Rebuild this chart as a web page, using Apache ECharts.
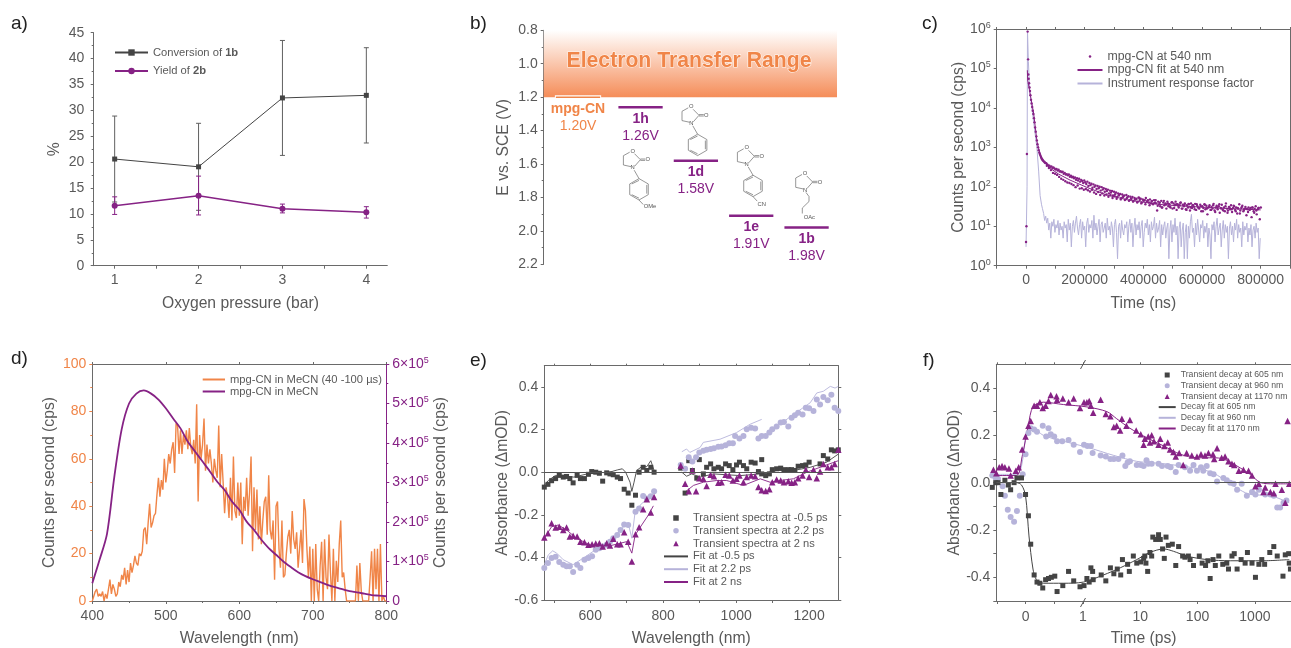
<!DOCTYPE html>
<html><head><meta charset="utf-8">
<script src="https://cdn.jsdelivr.net/npm/echarts@6/dist/echarts.min.js"></script>
<style>html,body{margin:0;padding:0;background:#fff}#c{width:1291px;height:648px}</style>
</head><body><div id="c"></div>
<script>
// ---------- a) ----------
const aPressure=[1,2,3,4];
const aConversion=[20.6,19.1,32.4,32.9];
const aConversionHi=[28.9,27.5,43.5,42.1];
const aConversionLo=[12.3,10.7,21.3,23.7];
const aYield=[11.6,13.5,11.0,10.3];
const aYieldHi=[13.3,17.3,11.9,11.4];
const aYieldLo=[9.9,9.8,10.2,9.2];
// ---------- b) ----------
const bNames=['mpg-CN','1h','1d','1e','1b'];
const bColumn=[0.62,1.75,2.75,3.75,4.75];
const bPotential=[1.20,1.26,1.58,1.91,1.98];
const bBand=[0.8,1.2];
// ---------- c) ----------
const cEarlyDots=[[0,4],[1500,10],[3000,680],[5500,860000],[7000,170000],[8000,70000],[9000,55000],[10500,42000],[12000,33000],[13500,27000],[15000,21000],[17000,16000],[19000,13000],[21000,10500],[23000,8500],[25000,7000],[27000,5500],[29000,4300],[31000,3200],[33000,2500],[35000,1900],[37000,1500],[39000,1200],[41000,1000],[43000,850],[45000,740],[47000,680],[49000,620],[51000,570],[53000,530],[55000,500],[57000,470],[59000,450]];
const cDotStart=62000, cStep=3500;
const cDots=[430,400,395,370,350,345,320,330,300,310,290,275,285,260,270,245,250,235,240,215,
225,205,210,195,205,180,190,175,180,165,172,150,165,145,160,135,150,140,125,145,
130,118,135,105,125,110,120,95,115,100,108,88,105,92,100,80,98,85,92,75,
88,78,85,68,80,72,78,60,75,65,72,55,68,62,66,52,64,58,60,48,
62,54,58,46,56,50,55,44,52,48,50,42,54,46,50,40,48,44,46,52,
42,46,40,48,38,44,36,46,40,38,25,42,36,32,44,30,40,34,38,28,
42,32,36,30,40,28,38,34,42,26,36,30,34,40,28,35,32,38,27,34,
30,36,25,38,29,34,31,37,26,33,30,28,35,24,32,29,36,27,33,20,
30,34,26,31,28,37,25,30,33,27,32,22,29,35,26,30,24,38,28,25,
31,27,34,23,29,32,26,30,21,28,36,25,29,33,24,28,31,19,27,30,
26,29,17,30,24,28,32,20,27,29,15,30];
const cDots2Start=64000, cDots2Step=7000;
const cDots2=[415,340,300,265,225,215,200,178,160,150,
138,128,125,118,110,98,108,90,92,84,
88,82,76,84,72,66,74,62,68,60,
64,56,62,52,58,50,60,48,54,46,
52,44,50,42,48,40,52,38,46,36,
44,34,42,38,46,33,40,30,44,36,
38,31,41,29,36,33,39,28,35,26,
37,30,34,27,36,29,32,24,35,28,
31,26,34,23,30,36,28,25,32,22,
30,27,33,24,29,21,31,26,28,23,
27,30,22,25,29];
const cFit=[[4500,90000],[5600,51000],[14700,21000],[26000,7300],[37400,1400],[48700,640],[60000,435],[82700,295],[111000,210],[150000,148],[207000,97],[275000,62],[355000,45],[468000,35],[581000,31],[695000,28],[800000,26]];
const cIrfEarly=[[0,3],[2000,3],[3500,100],[5000,900000],[8000,150000],[12000,30000],[20000,10000],[30000,2500],[37000,1000],[43000,250],[48000,60],[53000,35],[56000,28]];
const cIrfStart=60000;
const cIrf=[21,14,18,12,16,8,12,5,13,10,15,7,11,9,14,6,12,8,10,5,
13,9,11,4,15,8,12,3,10,14,7,12,18,9,6,11,15,5,13,8,
10,3,12,16,7,11,9,14,5,19,8,12,6,10,15,4,11,13,7,9,
12,5,16,8,10,6,13,9,3,11,15,7,1.5,10,12,5,14,8,6,11,
9,13,4,10,15,7,12,3,9,16,6,11,8,13,5,10,14,3,7,12,
9,15,6,11,4,13,8,10,17,5,12,7,9,14,3,11,6,10,13,5,
9,12,1.5,8,14,4,11,7,16,6,10,1.5,9,13,3,8,12,1.5,7,11,
1.5,10,5,13,20,7,9,3,12,6,15,8,4,11,9,14,5,10,7,12,
3,9,6,1.5,11,8,13,4,10,16,6,9,12,3,8,14,5,11,7,10,
1.5,9,13,6,10,4,12,8,15,5,11,7,9,3,13,6,10,8,12,4,
9,6,11,3,8,10,5,12,7,9,1.5,5];
// ---------- d) ----------
const dNoiseStart=400, dNoiseStep=2;
const dNoise=[0,2,4,5,2,3,2,4,0,3,
1,5,9,3,7,5,2,3,8,6,
11,9,14,7,13,8,16,12,15,19,
16,15,20,19,21,30,31,24,33,41,
31,33,36,37,45,52,44,51,47,60,
50,55,62,58,64,67,54,75,74,62,
72,62,70,66,72,64,73,65,62,68,
58,83,42,70,60,66,77,55,66,58,
64,58,50,60,55,52,74,48,62,50,
37,48,44,35,52,34,61,38,35,50,
36,50,24,44,38,52,36,46,61,21,
48,30,47,26,40,24,34,42,44,28,
53,30,26,34,9,40,42,22,14,34,
10,11,20,27,30,20,38,26,22,29,
14,14,30,16,43,38,22,10,23,0,
22,0,24,5,0,15,25,0,26,10,
5,28,12,0,22,0,17,8,24,34,
10,12,5,0,0,0,0,0,0,0,
15,0,16,4,0,0,0,0,0,10,
21,0,22,5,22,0,24,0,2,0,0];
const dSteadyWl=[400,410,420,430,440,450,460,470,480,490,500,510,520,530,540,550,560,570,580,590,600,610,620,630,640,650,660,670,680,690,700,710,720,730,740,750,760,770,780,790,800];
const dSteady=[45000,105000,170000,315000,435000,500000,525000,533000,525000,510000,488000,462000,437000,403000,378000,353000,328000,302000,281000,252000,231000,201000,180000,155000,134000,117000,100000,86000,73000,63000,55000,48000,41000,35000,30000,25000,22000,18500,15000,13500,12000];
// ---------- e) ----------
const eDark=[[474,-.07],[484,-.057],[494,-.04],[505,-.03],[515,-.015],[526,-.023],[535,-.02],[544,-.03],[553,-.05],[564,-.015],[573,-.03],[584,-.03],[595,-.01],[604,.003],[615,0],[625,-.005],[634,-.042],[645,-.003],[654,-.008],[663,-.012],[674,-.023],[683,-.03],[693,-.08],[704,-.098],[714,-.155],[724,-.108],[734,0],[745,.023],[755,.008],[766,.023],[775,0],
[848,.019],[860,-.098],[870,.054],[880,.008],[899,.059],[892,-.028],[910,-.008],[919,.023],[930,.039],[939,.016],[951,.023],[960,.016],[971,.039],[981,.031],[991,.012],[1001,.034],[1009,.047],[1020,.031],[1029,.016],[1041,.047],[1052,.043],[1070,.059],[1061,.003],[1070,-.008],[1081,-.016],[1091,-.008],[1099,.012],[1111,.016],[1122,.019],[1131,.012],[1143,.012],[1152,.012],[1161,.008],[1170,.028],[1182,.031],[1191,.034],[1200,.047],[1230,.039],[1239,.078],[1251,.062],[1261,.105],[1270,.10],[1280,.105]];
const eLav=[[474,-.45],[484,-.426],[494,-.403],[505,-.397],[515,-.422],[526,-.434],[535,-.442],[544,-.442],[553,-.468],[564,-.434],[573,-.45],[584,-.411],[595,-.403],[605,-.395],[615,-.364],[625,-.357],[634,-.349],[645,-.341],[654,-.326],[663,-.31],[674,-.295],[683,-.271],[693,-.245],[704,-.248],[724,-.186],[734,-.17],[745,-.112],[755,-.124],[766,-.113],[775,-.09],
[848,.034],[860,.016],[870,.07],[880,.05],[890,.07],[899,.093],[910,.101],[919,.105],[930,.109],[939,.112],[951,.119],[960,.121],[971,.127],[981,.136],[991,.136],[997,.17],[1009,.158],[1020,.17],[1029,.202],[1041,.209],[1052,.205],[1061,.158],[1070,.17],[1081,.17],[1091,.186],[1099,.202],[1111,.214],[1122,.233],[1131,.236],[1143,.214],[1152,.256],[1161,.267],[1170,.279],[1182,.271],[1191,.302],[1200,.30],[1212,.287],[1221,.341],[1230,.318],[1239,.353],[1251,.338],[1261,.364],[1270,.302],[1280,.287]];
const ePur=[[474,-.307],[484,-.287],[494,-.24],[505,-.26],[515,-.256],[526,-.271],[535,-.26],[544,-.302],[553,-.298],[564,-.302],[573,-.326],[584,-.329],[595,-.341],[605,-.338],[615,-.335],[625,-.333],[634,-.349],[645,-.333],[654,-.344],[663,-.313],[674,-.338],[683,-.338],[693,-.282],[704,-.326],[714,-.419],[724,-.291],[734,-.259],[745,-.174],[755,-.127],[766,-.189],[775,-.116],
[848,.031],[860,-.054],[870,-.09],[880,.008],[890,-.09],[899,-.028],[910,-.031],[919,-.065],[930,-.012],[939,-.019],[951,-.05],[960,-.047],[971,-.012],[981,-.016],[991,-.039],[1001,-.031],[1009,-.016],[1020,-.047],[1029,-.023],[1041,-.016],[1052,-.019],[1061,-.07],[1070,-.085],[1081,-.088],[1091,-.08],[1099,-.047],[1111,-.034],[1122,-.039],[1131,-.047],[1143,-.043],[1152,-.05],[1161,-.047],[1170,-.028],[1182,-.016],[1191,.012],[1200,-.023],[1212,.012],[1221,-.028],[1230,.003],[1239,.039],[1251,.023],[1261,.023],[1270,.039],[1280,.105]];
const eFitDark=[[474,-.062],[485,-.039],[504,-.016],[518,-.016],[555,-.023],[592,-.008],[619,0],[647,-.003],[675,.011],[688,.016],[697,0],[709,-.047],[714,-.09],[720,-.047],[727,.008],[741,.026],[755,.026],[766,.054],[775,.008],[null,null],[851,0],[864,-.019],[878,-.008],[901,-.023],[938,-.008],[974,-.012],[1011,-.016],[1066,-.008],[1111,.008],[1157,.008],[1203,.023],[1248,.047],[1280,.085]];
const eFitLav=[[474,-.434],[485,-.388],[497,-.369],[508,-.38],[526,-.411],[553,-.434],[581,-.403],[608,-.372],[645,-.341],[672,-.295],[691,-.256],[704,-.24],[714,-.31],[723,-.186],[741,-.147],[759,-.124],[773,-.101],[null,null],[851,.096],[864,.109],[873,.093],[901,.116],[910,.14],[956,.155],[1001,.186],[1038,.225],[1070,.248],[null,null],[1084,.178],[1120,.225],[1157,.271],[1203,.326],[1221,.372],[1239,.38],[1258,.403],[1271,.395],[1280,.403]];
const eFitPur=[[474,-.31],[494,-.256],[512,-.248],[535,-.271],[562,-.31],[599,-.341],[645,-.349],[672,-.338],[700,-.326],[714,-.38],[723,-.295],[741,-.248],[759,-.202],[773,-.158],[null,null],[860,-.093],[883,-.062],[910,-.047],[947,-.039],[974,-.039],[1020,-.062],[1066,-.031],[1093,-.047],[1120,-.039],[1157,-.031],[1194,0],[1230,.023],[1280,.054]];
// ---------- f) ---------- x = position on the broken axis: 0..1 linear ps, then 1 unit per decade (1→1, 10→2, 100→3, 1000→4)
const fTickPos=[0,1,2,3,4];
const fTickText=['0','1','10','100','1000'];
const fDark=[[-.58,-.02],[-.52,0],[-.48,0],[-.43,-.05],[-.36,.01],[-.30,-.01],[-.26,-.03],[-.20,0],[-.15,.02],[-.07,.02],[0,-.05],[.05,-.14],[.09,-.26],[.15,-.39],[.20,-.42],[.25,-.425],[.30,-.445],[.35,-.41],[.40,-.405],[.45,-.40],[.51,-.395],[.55,-.46],[.65,-.435],[.75,-.375],[.84,-.415],[.95,-.44],[1.02,-.435],[1.07,-.405],[1.11,-.42],[1.14,-.36],[1.17,-.375],[1.18,-.41],[1.32,-.39],[1.40,-.415],[1.48,-.36],[1.54,-.385],[1.60,-.365],[1.66,-.39],[1.69,-.325],[1.78,-.345],[1.81,-.375],[1.88,-.31],[1.94,-.34],[2.01,-.335],[2.06,-.32],[2.08,-.31],[2.10,-.34],[2.13,-.375],[2.17,-.295],[2.20,-.31],[2.22,-.23],[2.27,-.24],[2.32,-.22],[2.35,-.24],[2.45,-.23],[2.39,-.28],[2.42,-.32],[2.49,-.265],[2.56,-.26],[2.67,-.27],[2.62,-.35],[2.74,-.31],[2.78,-.315],[2.84,-.31],[2.87,-.325],[2.93,-.35],[3.03,-.31],[3.08,-.34],[3.14,-.35],[3.22,-.405],[3.18,-.33],[3.27,-.325],[3.31,-.35],[3.37,-.31],[3.44,-.345],[3.51,-.34],[3.54,-.365],[3.60,-.31],[3.64,-.30],[3.69,-.365],[3.76,-.325],[3.83,-.34],[3.87,-.295],[3.95,-.34],[4.01,-.40],[4.07,-.345],[4.12,-.325],[4.17,-.345],[4.26,-.295],[4.33,-.27],[4.39,-.31],[4.49,-.395],[4.53,-.305],[4.59,-.30],[4.62,-.365],[4.60,-.34]];
const fLav=[[-.58,.03],[-.52,.02],[-.48,.015],[-.40,-.015],[-.36,-.055],[-.31,-.115],[-.26,-.145],[-.20,-.165],[-.15,-.12],[-.10,-.055],[-.05,.035],[0,.12],[.05,.21],[.09,.23],[.15,.225],[.20,.215],[.30,.24],[.36,.195],[.40,.23],[.44,.205],[.50,.195],[.55,.175],[.64,.175],[.75,.18],[.84,.16],[.95,.13],[1.02,.16],[1.08,.155],[1.14,.155],[1.17,.125],[1.31,.115],[1.40,.11],[1.48,.10],[1.54,.10],[1.62,.10],[1.69,.115],[1.74,.07],[1.78,.085],[1.82,.09],[1.94,.075],[2.01,.075],[2.06,.07],[2.11,.095],[2.14,.08],[2.20,.08],[2.32,.08],[2.38,.07],[2.48,.07],[2.53,.065],[2.62,.045],[2.67,.075],[2.78,.065],[2.87,.05],[2.93,.075],[2.99,.05],[3.06,.065],[3.10,.05],[3.16,.07],[3.22,.04],[3.28,.035],[3.34,.005],[3.45,.02],[3.51,.01],[3.57,0],[3.63,-.005],[3.69,-.03],[3.77,-.005],[3.86,-.055],[3.95,-.04],[4.01,-.05],[4.07,-.03],[4.18,-.05],[4.27,-.05],[4.33,-.055],[4.39,-.105],[4.44,-.105],[4.50,-.085],[4.55,-.075]];
const fPur=[[-.56,.055],[-.51,.04],[-.46,.065],[-.41,.07],[-.36,.065],[-.29,.06],[-.26,.03],[-.17,.05],[-.12,.065],[-.06,.14],[0,.195],[.05,.24],[.09,.26],[.15,.325],[.20,.325],[.25,.34],[.30,.315],[.35,.325],[.40,.345],[.44,.37],[.54,.365],[.55,.35],[.65,.355],[.75,.34],[.84,.355],[.95,.315],[1.02,.34],[1.07,.34],[1.11,.345],[1.14,.325],[1.18,.295],[1.31,.35],[1.40,.29],[1.48,.28],[1.54,.235],[1.59,.24],[1.65,.22],[1.68,.27],[1.76,.24],[1.82,.265],[1.93,.22],[2.01,.205],[2.06,.16],[2.08,.185],[2.14,.195],[2.20,.20],[2.17,.17],[2.24,.175],[2.32,.16],[2.35,.185],[2.42,.155],[2.48,.17],[2.52,.14],[2.58,.13],[2.62,.11],[2.75,.075],[2.68,.125],[2.81,.125],[2.90,.115],[2.99,.11],[3.06,.12],[3.13,.115],[3.19,.125],[3.27,.12],[3.34,.145],[3.29,.10],[3.42,.105],[3.48,.11],[3.54,.09],[3.60,.08],[3.64,.075],[3.72,.05],[3.80,.055],[3.89,.05],[3.95,.03],[4.01,-.015],[4.07,-.005],[4.15,-.04],[4.18,-.02],[4.27,-.04],[4.36,-.005],[4.47,-.03],[4.33,-.045],[4.53,-.085],[4.57,.26],[4.60,-.005]];
const fFitDark=[[-.57,0],[-.16,0],[-.07,-.01],[0,-.055],[.06,-.225],[.13,-.365],[.19,-.41],[.31,-.425],[.66,-.425],[1.01,-.42],[1.36,-.39],[1.65,-.36],[1.94,-.325],[2.17,-.295],[2.41,-.28],[2.58,-.29],[2.81,-.31],[3.16,-.325],[3.57,-.33],[4.15,-.33],[4.6,-.325]];
const fFitLav=[[-.57,.035],[-.15,.035],[-.07,.07],[.02,.21],[.11,.235],[.31,.20],[.66,.175],[1.07,.15],[1.54,.115],[1.94,.09],[2.41,.08],[2.99,.06],[3.28,.04],[3.57,-.005],[3.92,-.05],[4.27,-.055],[4.6,-.085]];
const fFitPur=[[-.57,.03],[-.16,.03],[-.06,.11],[.05,.245],[.13,.32],[.31,.34],[.66,.33],[1.07,.32],[1.42,.30],[1.59,.27],[1.82,.23],[2.11,.19],[2.41,.155],[2.70,.12],[2.99,.105],[3.28,.105],[3.45,.10],[3.69,.07],[3.92,.035],[4.10,0],[4.33,-.005],[4.6,-.005]];

// ---------- style ----------
const DARK='#444444', LAV='#b6b3da', PUR='#862285', ORG='#f08548', TXT='#595959', AX='#6a6a6a';
const FONT='"Liberation Sans",Arial,sans-serif';
const ICON_RECT='path://M0 0H10V10H0Z', ICON_TRI='path://M5 0L10 10H0Z';
const grids=[],xAxes=[],yAxes=[],series=[];
function line(c){return {show:true,onZero:false,lineStyle:{color:c||AX,width:1}};}
function labelStyle(extra){return Object.assign({color:TXT,fontSize:14,fontFamily:FONT,margin:6},extra||{});}
function nameStyle(c){return {color:c||TXT,fontSize:15.7,fontFamily:FONT};}
function tick(extra){return Object.assign({show:true,length:3,lineStyle:{color:AX,width:1}},extra||{});}
function framed(g,xr,yr){ // top and right axes of a framed panel, carried by an empty series
  const xi=xAxes.push({gridIndex:g,type:'value',position:'top',min:xr[0],max:xr[1],axisLine:line(),axisLabel:{show:false},axisTick:tick({length:2,customValues:xr[2]}),splitLine:{show:false}})-1;
  const yi=yAxes.push({gridIndex:g,type:yr[3]||'value',position:'right',min:yr[0],max:yr[1],axisLine:line(),axisLabel:{show:false},axisTick:tick({length:3,customValues:yr[2]}),splitLine:{show:false}})-1;
  return [xi,yi];
}
// panel a
const aG=grids.push({left:93.7,top:32.7,width:293.6,height:233})-1;
const aX=xAxes.push({gridIndex:aG,type:'value',min:0.75,max:4.25,name:'Oxygen pressure (bar)',nameLocation:'middle',nameGap:30,nameTextStyle:nameStyle(),axisLine:line(),
  axisLabel:labelStyle({margin:7,customValues:aPressure}),axisTick:tick({customValues:[1,1.5,2,2.5,3,3.5,4]}),splitLine:{show:false}})-1;
const aY=yAxes.push({gridIndex:aG,type:'value',min:0,max:45,interval:5,name:'%',nameLocation:'middle',nameGap:31,nameTextStyle:nameStyle(),axisLine:line(),
  axisLabel:labelStyle({margin:9.5}),axisTick:tick(),minorTick:{show:true,splitNumber:2,length:2,lineStyle:{color:AX}},splitLine:{show:false}})-1;
function errorBars(hi,lo,color){
  return {type:'custom',xAxisIndex:aX,yAxisIndex:aY,z:2,silent:true,data:aPressure.map((p,i)=>[p,hi[i],lo[i]]),encode:{x:0,y:[1,2]},
    renderItem(params,api){
      const a=api.coord([api.value(0),api.value(1)]),b=api.coord([api.value(0),api.value(2)]);
      const st={stroke:color,lineWidth:1,fill:null};
      return {type:'group',children:[
        {type:'line',shape:{x1:a[0],y1:a[1],x2:b[0],y2:b[1]},style:st},
        {type:'line',shape:{x1:a[0]-2.5,y1:a[1],x2:a[0]+2.5,y2:a[1]},style:st},
        {type:'line',shape:{x1:b[0]-2.5,y1:b[1],x2:b[0]+2.5,y2:b[1]},style:st}]};
    }};
}
series.push(errorBars(aConversionHi,aConversionLo,'#606060'),errorBars(aYieldHi,aYieldLo,PUR));
series.push({name:'Conversion of 1b',type:'line',xAxisIndex:aX,yAxisIndex:aY,z:3,data:aPressure.map((p,i)=>[p,aConversion[i]]),symbol:'rect',symbolSize:5,lineStyle:{color:DARK,width:1},itemStyle:{color:DARK}});
series.push({name:'Yield of 2b',type:'line',xAxisIndex:aX,yAxisIndex:aY,z:3,data:aPressure.map((p,i)=>[p,aYield[i]]),symbol:'circle',symbolSize:6,lineStyle:{color:PUR,width:1.5},itemStyle:{color:PUR}});
// panel b
const bG=grids.push({left:543.7,top:30.3,width:293.3,height:234})-1;
const bX=xAxes.push({gridIndex:bG,type:'value',min:0,max:5.3,show:false})-1;
const bY=yAxes.push({gridIndex:bG,type:'value',inverse:true,min:0.8,max:2.2,interval:0.2,name:'E vs. SCE (V)',nameLocation:'middle',nameGap:32,nameTextStyle:nameStyle(),axisLine:line(),
  axisLabel:labelStyle({formatter:v=>v.toFixed(1)}),axisTick:tick(),minorTick:{show:true,splitNumber:2,length:2,lineStyle:{color:AX}},splitLine:{show:false}})-1;
series.push({type:'custom',xAxisIndex:bX,yAxisIndex:bY,z:3,silent:true,data:bNames.map((n,i)=>[bColumn[i],bPotential[i]]),encode:{x:0,y:1},
  markArea:{silent:true,z:1,itemStyle:{opacity:1,color:{type:'linear',x:0,y:0,x2:0,y2:1,colorStops:[{offset:0,color:'#ffffff'},{offset:1,color:'#f58d59'}]}},
    data:[[{coord:[0,bBand[0]]},{coord:[5.3,bBand[1]]}]]},
  renderItem(params,api){
    const i=params.dataIndex,x=api.value(0),e=api.value(1),c=api.coord([x,e]);
    const a=api.coord([x-0.4,e]),b=api.coord([x+0.4,e]);
    const col=i===0?ORG:PUR,kids=[];
    if(i===0) kids.push({type:'rect',shape:{x:a[0]-1,y:a[1]-2,width:b[0]-a[0]+2,height:5},style:{fill:'#fff'}});
    kids.push({type:'line',shape:{x1:a[0],y1:a[1],x2:b[0],y2:b[1]},style:{stroke:col,lineWidth:i===0?1.5:2.5}});
    kids.push({type:'text',style:{text:bNames[i],x:c[0],y:c[1]+11.5,fill:col,font:'bold 14px '+FONT,align:'center',verticalAlign:'middle'}});
    kids.push({type:'text',style:{text:e.toFixed(2)+'V',x:c[0],y:c[1]+28.5,fill:col,font:'14px '+FONT,align:'center',verticalAlign:'middle'}});
    return {type:'group',children:kids};
  }});
// panel c
const cG=grids.push({left:996.7,top:29,width:293.3,height:236.7})-1;
const cTicks=[-100000,0,100000,200000,300000,400000,500000,600000,700000,800000,900000];
const cX=xAxes.push({gridIndex:cG,type:'value',min:-100000,max:900000,interval:100000,name:'Time (ns)',nameLocation:'middle',nameGap:30,nameTextStyle:nameStyle(),axisLine:line(),
  axisLabel:labelStyle({margin:7,customValues:[0,200000,400000,600000,800000],formatter:v=>String(v)}),axisTick:tick({customValues:cTicks}),splitLine:{show:false}})-1;
const powLabel=v=>'10{s|'+Math.round(Math.log10(v))+'}';
const cY=yAxes.push({gridIndex:cG,type:'log',logBase:10,min:1,max:1000000,name:'Counts per second (cps)',nameLocation:'middle',nameGap:25,nameTextStyle:nameStyle(),axisLine:line(),
  axisLabel:labelStyle({formatter:powLabel,rich:{s:{fontSize:9,color:TXT,fontFamily:FONT,verticalAlign:'bottom',padding:[0,0,7,0]}}}),axisTick:tick(),splitLine:{show:false}})-1;
const cf=framed(cG,[-100000,900000,cTicks],[1,1000000,undefined,'log']);
const cAllDots=cEarlyDots.concat(cDots.map((v,i)=>[cDotStart+i*cStep,v]),cDots2.map((v,i)=>[cDots2Start+i*cDots2Step,v]));
const cAllIrf=cIrfEarly.concat(cIrf.map((v,i)=>[cIrfStart+i*cStep,v]));
series.push({name:'Instrument response factor',type:'line',xAxisIndex:cX,yAxisIndex:cY,data:cAllIrf,symbol:'none',lineStyle:{color:LAV,width:1},itemStyle:{color:LAV},z:2});
series.push({name:'mpg-CN fit at 540 nm',type:'line',xAxisIndex:cX,yAxisIndex:cY,data:cFit,symbol:'none',lineStyle:{color:PUR,width:1},itemStyle:{color:PUR},z:3});
series.push({name:'mpg-CN at 540 nm',type:'scatter',xAxisIndex:cX,yAxisIndex:cY,data:cAllDots,symbol:'circle',symbolSize:2.4,itemStyle:{color:PUR,opacity:1},z:4});
series.push({type:'line',xAxisIndex:cf[0],yAxisIndex:cf[1],data:[],silent:true});
// panel d
const dG=grids.push({left:92.3,top:364,width:294,height:237.3})-1;
const dX=xAxes.push({gridIndex:dG,type:'value',min:400,max:800,interval:100,name:'Wavelength (nm)',nameLocation:'middle',nameGap:30,nameTextStyle:nameStyle(),axisLine:line(),
  axisLabel:labelStyle({margin:8}),axisTick:tick(),minorTick:{show:true,splitNumber:2,length:2,lineStyle:{color:AX}},splitLine:{show:false}})-1;
const dY=yAxes.push({gridIndex:dG,type:'value',min:0,max:100,interval:20,name:'Counts per second (cps)',nameLocation:'middle',nameGap:35,nameTextStyle:nameStyle(),axisLine:line(),
  axisLabel:labelStyle({color:ORG}),axisTick:tick({lineStyle:{color:ORG}}),minorTick:{show:true,splitNumber:2,length:2,lineStyle:{color:ORG}},splitLine:{show:false}})-1;
const dy2=yAxes.push({gridIndex:dG,type:'value',position:'right',min:0,max:600000,interval:100000,name:'Counts per second (cps)',nameLocation:'middle',nameGap:42,nameTextStyle:nameStyle(),axisLine:line(PUR),
  axisLabel:labelStyle({color:PUR,formatter:v=>v===0?'0':(v/100000)+'×10{s|5}',rich:{s:{fontSize:9,color:PUR,fontFamily:FONT,verticalAlign:'bottom',padding:[0,0,7,0]}}}),axisTick:tick({lineStyle:{color:PUR}}),minorTick:{show:true,splitNumber:2,length:2,lineStyle:{color:PUR}},splitLine:{show:false}})-1;
const dTop=xAxes.push({gridIndex:dG,type:'value',position:'top',min:400,max:800,interval:100,axisLine:line(),axisLabel:{show:false},axisTick:tick({length:2}),splitLine:{show:false}})-1;
series.push({name:'mpg-CN in MeCN (40 -100 µs)',type:'line',xAxisIndex:dX,yAxisIndex:dY,data:dNoise.map((v,i)=>[dNoiseStart+i*dNoiseStep,v]),symbol:'none',lineStyle:{color:ORG,width:1.4},itemStyle:{color:ORG},z:2});
series.push({name:'mpg-CN in MeCN',type:'line',xAxisIndex:dX,yAxisIndex:dy2,data:dSteadyWl.map((w,i)=>[w,dSteady[i]]),symbol:'none',smooth:0.3,lineStyle:{color:PUR,width:1.8},itemStyle:{color:PUR},z:3});
series.push({type:'line',xAxisIndex:dTop,yAxisIndex:dY,data:[],silent:true});
// panel e
const eG=grids.push({left:544.3,top:365.7,width:294,height:236.6})-1;
const eTicks=[500,600,700,800,900,1000,1100,1200];
const eYT=[-0.6,-0.4,-0.2,0,0.2,0.4];
const eX=xAxes.push({gridIndex:eG,type:'value',min:474,max:1280,name:'Wavelength (nm)',nameLocation:'middle',nameGap:31,nameTextStyle:nameStyle(),axisLine:line(),
  axisLabel:labelStyle({margin:9,customValues:[600,800,1000,1200],formatter:v=>String(v)}),axisTick:tick({customValues:eTicks}),splitLine:{show:false}})-1;
const eY=yAxes.push({gridIndex:eG,type:'value',min:-0.6,max:0.5,name:'Absorbance (ΔmOD)',nameLocation:'middle',nameGap:34,nameTextStyle:nameStyle(),axisLine:line(),
  axisLabel:labelStyle({customValues:eYT,formatter:v=>v.toFixed(1)}),axisTick:tick({customValues:eYT}),splitLine:{show:false}})-1;
const ef=framed(eG,[474,1280,eTicks],[-0.6,0.5,eYT]);
series.push({name:'Fit at -0.5 ps',type:'line',xAxisIndex:eX,yAxisIndex:eY,data:eFitDark,symbol:'none',lineStyle:{color:DARK,width:0.9},itemStyle:{color:DARK},z:2,
  markLine:{silent:true,symbol:'none',label:{show:false},lineStyle:{color:'#555',width:1,type:'solid'},data:[{yAxis:0}]}});
series.push({name:'Fit at 2.2 ps',type:'line',xAxisIndex:eX,yAxisIndex:eY,data:eFitLav,symbol:'none',lineStyle:{color:LAV,width:0.9},itemStyle:{color:LAV},z:2});
series.push({name:'Fit at 2 ns',type:'line',xAxisIndex:eX,yAxisIndex:eY,data:eFitPur,symbol:'none',lineStyle:{color:PUR,width:0.9},itemStyle:{color:PUR},z:2});
series.push({name:'Transient spectra at -0.5 ps',type:'scatter',xAxisIndex:eX,yAxisIndex:eY,data:eDark,symbol:'rect',symbolSize:5,itemStyle:{color:DARK,opacity:1},clip:false,z:3});
series.push({name:'Transient spectra at 2.2 ps',type:'scatter',xAxisIndex:eX,yAxisIndex:eY,data:eLav,symbol:'circle',symbolSize:6,itemStyle:{color:LAV,opacity:1},clip:false,z:3});
series.push({name:'Transient spectra at 2 ns',type:'scatter',xAxisIndex:eX,yAxisIndex:eY,data:ePur,symbol:'triangle',symbolSize:6.5,itemStyle:{color:PUR,opacity:1},clip:false,z:4});
series.push({type:'line',xAxisIndex:ef[0],yAxisIndex:ef[1],data:[],silent:true});
// panel f
const fG=grids.push({left:996.3,top:364.3,width:294.7,height:237.7})-1;
const fTickAll=[-0.5,0,0.5,1,2,3,4];
const fYT=[-0.5,-0.4,-0.3,-0.2,-0.1,0,0.1,0.2,0.3,0.4];
const fX=xAxes.push({gridIndex:fG,type:'value',min:-0.51,max:4.63,name:'Time (ps)',nameLocation:'middle',nameGap:30,nameTextStyle:nameStyle(),axisLine:line(),
  axisLabel:labelStyle({margin:9,customValues:fTickPos,formatter:v=>fTickText[fTickPos.indexOf(v)]}),axisTick:tick({customValues:fTickAll}),splitLine:{show:false}})-1;
const fY=yAxes.push({gridIndex:fG,type:'value',min:-0.5,max:0.5,name:'Absorbance (ΔmOD)',nameLocation:'middle',nameGap:24,nameTextStyle:nameStyle(),axisLine:line(),
  axisLabel:labelStyle({customValues:[-0.4,-0.2,0,0.2,0.4],formatter:v=>v.toFixed(1)}),axisTick:tick({customValues:fYT}),splitLine:{show:false}})-1;
const ff=framed(fG,[-0.51,4.63,fTickAll],[-0.5,0.5,[0]]);
series.push({name:'Decay fit at 605 nm',type:'line',xAxisIndex:fX,yAxisIndex:fY,data:fFitDark,symbol:'none',smooth:0.3,lineStyle:{color:DARK,width:1},itemStyle:{color:DARK},z:2,clip:false,
  markLine:{silent:true,symbol:'none',label:{show:false},lineStyle:{color:'#555',width:1,type:'solid'},data:[{yAxis:0}]}});
series.push({name:'Decay fit at 960 nm',type:'line',xAxisIndex:fX,yAxisIndex:fY,data:fFitLav,symbol:'none',smooth:0.3,lineStyle:{color:LAV,width:1},itemStyle:{color:LAV},z:2,clip:false});
series.push({name:'Decay fit at 1170 nm',type:'line',xAxisIndex:fX,yAxisIndex:fY,data:fFitPur,symbol:'none',smooth:0.3,lineStyle:{color:PUR,width:1},itemStyle:{color:PUR},z:2,clip:false});
series.push({name:'Transient decay at 960 nm',type:'scatter',xAxisIndex:fX,yAxisIndex:fY,data:fLav,symbol:'circle',symbolSize:6,itemStyle:{color:LAV,opacity:1},clip:false,z:3});
series.push({name:'Transient decay at 605 nm',type:'scatter',xAxisIndex:fX,yAxisIndex:fY,data:fDark,symbol:'rect',symbolSize:5,itemStyle:{color:DARK,opacity:1},clip:false,z:4});
series.push({name:'Transient decay at 1170 nm',type:'scatter',xAxisIndex:fX,yAxisIndex:fY,data:fPur,symbol:'triangle',symbolSize:6.5,itemStyle:{color:PUR,opacity:1},clip:false,z:4});
series.push({type:'line',xAxisIndex:ff[0],yAxisIndex:ff[1],data:[],silent:true});

// legends
const lineItem=n=>({name:n,itemStyle:{color:'rgba(0,0,0,0)'}});
function leg(left,top,names,o){return Object.assign({left,top,orient:'vertical',padding:0,align:'left',selectedMode:false,data:names,
  textStyle:{color:TXT,fontSize:o.fs,fontFamily:FONT},itemWidth:o.w,itemHeight:o.h,itemGap:o.g},o.extra||{});}
const legends=[
 leg(114,47,['Conversion of 1b','Yield of 2b'],{fs:11.2,w:33,h:8,g:7.5,extra:{formatter:n=>n.replace(/(1b|2b)$/,'{b|$1}'),textStyle:{color:TXT,fontSize:11.2,fontFamily:FONT,rich:{b:{fontWeight:'bold',color:TXT,fontSize:11.2,fontFamily:FONT}}}}}),
 leg(1076.5,50.5,[{name:'mpg-CN at 540 nm',icon:'circle'},lineItem('mpg-CN fit at 540 nm'),lineItem('Instrument response factor')],{fs:12.3,w:25,h:2.5,g:1.5}),
 leg(201.7,374,[lineItem('mpg-CN in MeCN (40 -100 µs)'),lineItem('mpg-CN in MeCN')],{fs:11.2,w:22.3,h:4,g:1}),
 leg(663,512.5,[{name:'Transient spectra at -0.5 ps',icon:ICON_RECT},{name:'Transient spectra at 2.2 ps',icon:'circle'},{name:'Transient spectra at 2 ns',icon:ICON_TRI},lineItem('Fit at -0.5 ps'),lineItem('Fit at 2.2 ps'),lineItem('Fit at 2 ns')],{fs:11.1,w:24,h:5.5,g:1.8}),
 leg(1157.7,370.5,[{name:'Transient decay at 605 nm',icon:ICON_RECT},{name:'Transient decay at 960 nm',icon:'circle'},{name:'Transient decay at 1170 nm',icon:ICON_TRI},lineItem('Decay fit at 605 nm'),lineItem('Decay fit at 960 nm'),lineItem('Decay fit at 1170 nm')],{fs:8.7,w:17,h:5,g:1.7})
];

// graphic: panel letters, band title, structures, axis-break marks
const graphic=[];
function txt(t,x,y,font,fill,extra){graphic.push({type:'text',silent:true,z:50,style:Object.assign({text:t,x,y,font,fill,align:'left',verticalAlign:'middle'},extra||{})});}
[['a)',11,24],['b)',470,24],['c)',922,24],['d)',11,359],['e)',470,361],['f)',923,361]].forEach(l=>txt(l[0],l[1],l[2],'19px '+FONT,'#222'));
txt('Electron Transfer Range',689,61.5,'bold 21.2px '+FONT,ORG,{align:'center',stroke:'#fff6ef',lineWidth:1.2});
function poly(pts,ox,oy){graphic.push({type:'polyline',silent:true,z:40,shape:{points:pts.map(p=>[p[0]+ox,p[1]+oy])},style:{stroke:'#6a6a6a',fill:null,lineWidth:0.7}});}
function small(t,x,y){txt(t,x,y,'5.8px '+FONT,'#555',{align:'center'});}
function ring(ox,oy){
  poly([[-1.5,-1],[-9.3,-2.7],[-9.3,-12],[-3,-15.5]],ox,oy);
  poly([[1.8,-14],[7.7,-8],[2,-1.5]],ox,oy);
  poly([[7.7,-8.7],[12.5,-8.7]],ox,oy);poly([[7.7,-7.3],[12.5,-7.3]],ox,oy);
  small('N',ox,oy);small('O',ox,oy-16.5);small('O',ox+15,oy-8);
}
function phenyl(ox,oy){
  const cx=6.3,cy=21.6,r=10.7,dx=9.27,dy=5.35;
  poly([[1.5,2.5],[cx,cy-r]],ox,oy);
  poly([[cx,cy-r],[cx+dx,cy-dy],[cx+dx,cy+dy],[cx,cy+r],[cx-dx,cy+dy],[cx-dx,cy-dy],[cx,cy-r]],ox,oy);
  poly([[cx+dx-1.5,cy-dy+1],[cx+dx-1.5,cy+dy-1]],ox,oy);
  poly([[cx-dx+2,cy+dy],[cx,cy+r-1.8]],ox,oy);
  poly([[cx-dx+2,cy-dy],[cx,cy-r+1.8]],ox,oy);
}
ring(632.7,167.7);phenyl(632.7,167.7);poly([[6.3,32.3],[10.5,36.8]],632.7,167.7);small('OMe',650,206.4);
ring(691.3,123.3);phenyl(691.3,123.3);
ring(746.7,164.3);phenyl(746.7,164.3);poly([[6.3,32.3],[10.5,36.8]],746.7,164.3);small('CN',761.7,204.3);
ring(805,190);poly([[1,2.5],[4,6.5],[4,11.5],[-2.7,18],[-2.7,23.5]],805,190);small('OAc',809.3,217.3);
graphic.push({type:'line',silent:true,z:40,shape:{x1:1080.5,y1:369,x2:1085.5,y2:360},style:{stroke:'#555',lineWidth:1}});
graphic.push({type:'line',silent:true,z:40,shape:{x1:1080.5,y1:607,x2:1085.5,y2:598},style:{stroke:'#555',lineWidth:1}});

const chart=echarts.init(document.getElementById('c'),null,{renderer:'canvas'});
chart.setOption({animation:false,backgroundColor:'#fff',textStyle:{fontFamily:FONT},tooltip:{show:false},grid:grids,xAxis:xAxes,yAxis:yAxes,series,legend:legends,graphic});
</script></body></html>
